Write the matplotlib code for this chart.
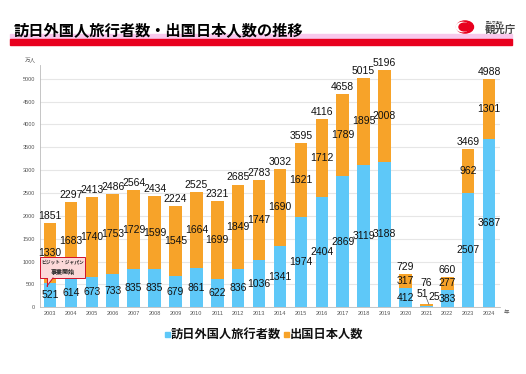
import matplotlib
matplotlib.use("Agg")
import matplotlib.pyplot as plt
from matplotlib.patches import Rectangle, Circle, FancyBboxPatch, Polygon
import numpy as np

plt.rcParams['font.family'] = ['Liberation Sans', 'Noto Sans CJK JP', 'DejaVu Sans']

years = ['2003', '2004', '2005', '2006', '2007', '2008', '2009', '2010', '2011', '2012', '2013',
         '2014', '2015', '2016', '2017', '2018', '2019', '2020', '2021', '2022', '2023', '2024']
inbound = [521, 614, 673, 733, 835, 835, 679, 861, 622, 836, 1036,
           1341, 1974, 2404, 2869, 3119, 3188, 412, 25, 383, 2507, 3687]
outbound = [1330, 1683, 1740, 1753, 1729, 1599, 1545, 1664, 1699, 1849, 1747,
            1690, 1621, 1712, 1789, 1895, 2008, 317, 51, 277, 962, 1301]
totals = [1851, 2297, 2413, 2486, 2564, 2434, 2224, 2525, 2321, 2685, 2783,
          3032, 3595, 4116, 4658, 5015, 5196, 729, 76, 660, 3469, 4988]
yticks = [0, 500, 1000, 1500, 2000, 2500, 3000, 3500, 4000, 4500, 5000]

BLUE = '#5EC8F8'
ORANGE = '#F7A329'
W, H = 526, 374

fig = plt.figure(figsize=(W / 100, H / 100), dpi=100)

def fx(px):
    return px / W

def fy(py):
    return 1 - py / H

# Title bands
fig.patches.append(Rectangle((fx(10), fy(39)), fx(512) - fx(10), fy(34) - fy(39),
                             transform=fig.transFigure, color='#F8C8EC', zorder=0))
fig.patches.append(Rectangle((fx(10), fy(45)), fx(512) - fx(10), fy(39) - fy(45),
                             transform=fig.transFigure, color='#E8001E', zorder=0))
fig.text(fx(14), fy(35.5), '訪日外国人旅行者数・出国日本人数の推移', fontsize=11, fontweight='bold',
         family=['Noto Sans CJK JP'], ha='left', va='baseline', color='black')

# Logo
fig.patches.append(Circle((fx(465), fy(27)), 8.5 / W, transform=fig.transFigure, color='#E8001E'))
fig.patches.append(Circle((fx(462.5), fy(27)), 6.5 / W, transform=fig.transFigure, color='white'))
fig.patches.append(Circle((fx(464.5), fy(27)), 5.5 / W, transform=fig.transFigure, color='#E8001E'))
fig.text(fx(486), fy(22.5), '国土交通省', fontsize=2.5, family=['Noto Sans CJK JP'], ha='left',
         va='center', color='#444444')
fig.text(fx(485), fy(30), '観光庁', fontsize=7.5, fontweight='bold', family=['Noto Sans CJK JP'],
         ha='left', va='center', color='#444444')

# Axes
ax = fig.add_axes([fx(39.5), fy(307.3), fx(499.5) - fx(39.5), fy(65) - fy(307.3)])
x = np.arange(len(years))
ax.bar(x, inbound, width=0.6, color=BLUE, zorder=2)
ax.bar(x, outbound, width=0.6, bottom=inbound, color=ORANGE, zorder=2)
ax.set_xlim(-0.5, len(years) - 0.5)
ax.set_ylim(0, 5300)
ax.set_yticks(yticks)
ax.set_yticklabels([str(v) for v in yticks], fontsize=4, color='#555555')
ax.set_xticks(x)
ax.set_xticklabels(years, fontsize=4, color='#555555')
ax.tick_params(axis='both', length=0, pad=3)
ax.grid(axis='y', color='#E6E6E6', linewidth=0.8, zorder=0)
for s in ['top', 'right']:
    ax.spines[s].set_visible(False)
ax.spines['left'].set_color('#BBBBBB')
ax.spines['left'].set_linewidth(0.6)
ax.spines['bottom'].set_color('#BBBBBB')
ax.spines['bottom'].set_linewidth(0.6)

lab = dict(fontsize=7.5, ha='center', va='center', color='#111111', zorder=5)
for i in range(len(years)):
    if years[i] == '2021':
        ax.text(i - 0.2, 300, str(outbound[i]), **lab)
        ax.text(i + 0.36, 235, str(inbound[i]), **lab)
        ax.plot([i - 0.02, i + 0.12], [230, 70], color='#555555', lw=0.5, zorder=5)
        ax.text(i, 530, str(totals[i]), **lab)
        continue
    ax.text(i, inbound[i] / 2, str(inbound[i]), **lab)
    ax.text(i, inbound[i] + outbound[i] / 2, str(outbound[i]), **lab)
    ax.annotate(str(totals[i]), (i, totals[i]), xytext=(0, 1.5), textcoords='offset points',
                fontsize=7.5, ha='center', va='bottom', color='#111111', zorder=5)

# Axis unit labels
fig.text(fx(30), fy(60), '万人', fontsize=4, family=['Noto Sans CJK JP'], ha='center', va='center',
         color='#555555')
fig.text(fx(507), fy(313), '年', fontsize=4, family=['Noto Sans CJK JP'], ha='center', va='center',
         color='#555555')

# Callout
box = FancyBboxPatch((fx(40), fy(278)), fx(85) - fx(40), fy(257) - fy(278),
                     boxstyle='square,pad=0', transform=fig.transFigure,
                     facecolor='#FCD9D9', edgecolor='#D0102A', linewidth=0.7, zorder=10)
fig.patches.append(box)
tail = Polygon([[fx(47), fy(277.6)], [fx(53), fy(277.6)], [fx(47), fy(286)]], closed=True,
               transform=fig.transFigure, facecolor='#FCD9D9', edgecolor='none', zorder=11)
fig.patches.append(tail)
fig.lines.append(plt.Line2D([fx(47), fx(47)], [fy(278), fy(286)], transform=fig.transFigure,
                            color='#D0102A', lw=0.7, zorder=12))
fig.lines.append(plt.Line2D([fx(53), fx(47)], [fy(278), fy(286)], transform=fig.transFigure,
                            color='#D0102A', lw=0.7, zorder=12))
fig.text(fx(62.5), fy(263), 'ビジット・ジャパン', fontsize=3.4, fontweight='bold',
         family=['Noto Sans CJK JP'], ha='center', va='center', color='#222222', zorder=13)
fig.text(fx(62.5), fy(271.5), '事業開始', fontsize=4.3, fontweight='bold',
         family=['Noto Sans CJK JP'], ha='center', va='center', color='#222222', zorder=13)

# Legend
fig.patches.append(Rectangle((fx(165), fy(336.5)), 5 / W, 5 / H, transform=fig.transFigure, color=BLUE))
fig.text(fx(171), fy(334), '訪日外国人旅行者数', fontsize=8.8, fontweight='bold',
         family=['Noto Sans CJK JP'], ha='left', va='center', color='#111111')
fig.patches.append(Rectangle((fx(284), fy(336.5)), 5 / W, 5 / H, transform=fig.transFigure, color=ORANGE))
fig.text(fx(290), fy(334), '出国日本人数', fontsize=8.8, fontweight='bold',
         family=['Noto Sans CJK JP'], ha='left', va='center', color='#111111')

fig.savefig('out.png', dpi=100)
